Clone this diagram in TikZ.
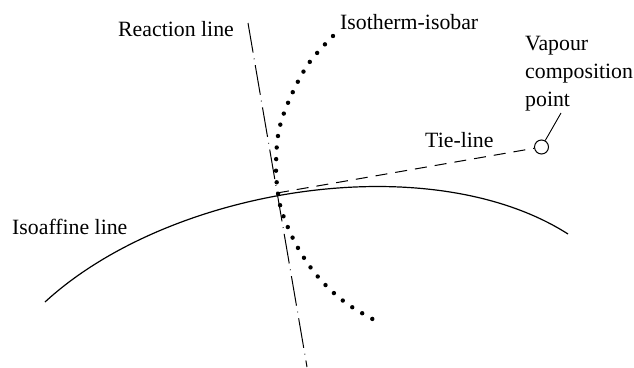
\documentclass[tikz,border=0pt]{standalone}
\usepackage{fontspec}
\setmainfont{Liberation Serif}
\begin{document}
\begin{tikzpicture}[x=1pt,y=-1pt,
  lbl/.style={anchor=base west,inner sep=0pt,font=\fontsize{21.8}{28}\selectfont},
  curve/.style={line width=1.2pt},
  dotline/.style={line width=4.4pt,line cap=round,dash pattern=on 0pt off 11.6pt},
  reactline/.style={line width=1pt,dash pattern=on 30pt off 6pt on 0.8pt off 6pt},
  tieline/.style={line width=1pt,dash pattern=on 12pt off 8pt}]
\useasboundingbox (0,0) rectangle (634,367);
% reaction line
\coordinate (rtop) at (248,23);
\coordinate (rbot) at (307,367);
\draw[reactline] (rtop) -- (rbot);
% isoaffine line
\coordinate (aff1) at (45,302);
\coordinate (aff2) at (568,234);
\draw[curve] (aff1) .. controls (170,187) and (430,146) .. (aff2);
% isotherm-isobar
\draw[dotline] plot[smooth,tension=0.6] coordinates {(333,36) (309,63) (291,96) (279,130) (276,166) (278,193) (283,215) (298,248) (319,278) (346,303) (378,322)};
% tie-line
\coordinate (junc) at (277,193);
\node[draw,circle,line width=1pt,minimum size=14pt,inner sep=0pt] (vap) at (541.5,147) {};
\draw[tieline] (junc) -- (vap);
\coordinate (lead) at (561,113);
\draw[line width=0.9pt] (vap.60) -- (lead);
% labels
\node[lbl] (lreact) at (118,36) {Reaction line};
\node[lbl] (liso) at (340,29) {Isotherm-isobar};
\node[lbl] (lv1) at (525,50) {Vapour};
\node[lbl] (lv2) at (525,78) {composition};
\node[lbl] (lv3) at (525,106) {point};
\node[lbl] (ltie) at (425,147) {Tie-line};
\node[lbl] (laff) at (12,234) {Isoaffine line};
\end{tikzpicture}
\end{document}
